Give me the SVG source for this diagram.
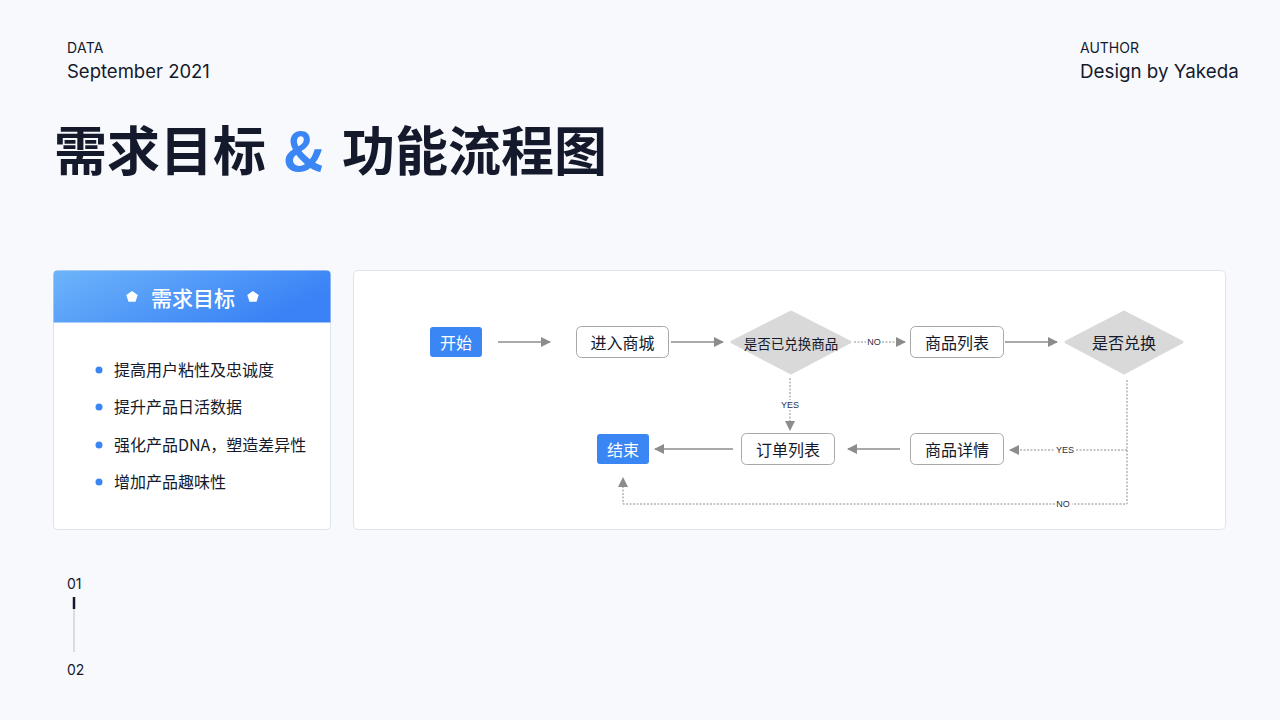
<svg xmlns="http://www.w3.org/2000/svg" width="1280" height="720" viewBox="0 0 1280 720">
<defs>
<linearGradient id="hg" x1="0" y1="0" x2="1" y2="0.4">
<stop offset="0" stop-color="#6db4fa"/>
<stop offset="1" stop-color="#3a82f6"/>
</linearGradient>
<marker id="ah" viewBox="0 0 10 10" refX="9" refY="5" markerWidth="10" markerHeight="10" markerUnits="userSpaceOnUse" orient="auto">
<path d="M0,0 L10,5 L0,10 z" fill="#8c8c8c"/>
</marker>
<style>
.t{font-family:"Noto Sans CJK SC","Noto Sans",sans-serif;fill:#141a2b}
.lat{font-family:"Inter","Noto Sans",sans-serif;fill:#141a2b}
.box{fill:#fff;stroke:#a8a8a8;stroke-width:1}
.blue{fill:#3b86f5}
.dia{fill:#d9d9d9}
.nl{font-family:"Noto Sans CJK SC",sans-serif;font-size:16px;fill:#141a2b;text-anchor:middle;dominant-baseline:central}
.sm{font-family:"Noto Sans CJK SC",sans-serif;font-size:13.5px;fill:#141a2b;text-anchor:middle;dominant-baseline:central}
.lbl{font-family:"Liberation Sans",sans-serif;font-size:9px;fill:#2a2f45;text-anchor:middle;dominant-baseline:central}
.solid{stroke:#8c8c8c;stroke-width:1.5;fill:none}
.dot{stroke:#8c8c8c;stroke-width:1;fill:none;stroke-dasharray:2 1.5}
.li{font-family:"Noto Sans CJK SC",sans-serif;font-size:16px;fill:#141a2b}
</style>
</defs>
<rect width="1280" height="720" fill="#f8f9fd"/>

<g id="header">
<text class="lat" x="67" y="53" font-size="14" letter-spacing="0.3">DATA</text>
<text class="lat" x="67" y="78" font-size="18.5">September 2021</text>
<text class="lat" x="1080" y="53" font-size="14">AUTHOR</text>
<text class="lat" x="1080" y="78" font-size="18.8">Design by Yakeda</text>
<text class="t" x="54" y="171" font-size="53" font-weight="700">需求目标</text>
<text class="t" x="284" y="171" font-size="53" font-weight="700" style="fill:#3b86f5">&amp;</text>
<text class="t" x="342" y="171" font-size="53" font-weight="700">功能流程图</text>
</g>

<g id="goal-card">
<rect x="53.5" y="270.5" width="277" height="259" rx="4" fill="#fff" stroke="#dfe3ec"/>
<path d="M57.5,270.5 H326.5 A4,4 0 0 1 330.5,274.5 V322.5 H53.5 V274.5 A4,4 0 0 1 57.5,270.5 Z" fill="url(#hg)"/>
<polygon points="132,291 137.7,295.1 135.5,301.8 128.5,301.8 126.3,295.1" fill="#fff"/>
<polygon points="253,291 258.7,295.1 256.5,301.8 249.5,301.8 247.3,295.1" fill="#fff"/>
<text x="193" y="297" font-family="Noto Sans CJK SC,sans-serif" font-size="21" font-weight="500" fill="#fff" text-anchor="middle" dominant-baseline="central">需求目标</text>
<circle cx="99" cy="370" r="3.5" fill="#3b86f5"/>
<text class="li" x="114" y="375.5">提高用户粘性及忠诚度</text>
<circle cx="99" cy="407" r="3.5" fill="#3b86f5"/>
<text class="li" x="114" y="412.5">提升产品日活数据</text>
<circle cx="99" cy="445" r="3.5" fill="#3b86f5"/>
<text class="li" x="114" y="450.5">强化产品DNA，塑造差异性</text>
<circle cx="99" cy="482" r="3.5" fill="#3b86f5"/>
<text class="li" x="114" y="487.5">增加产品趣味性</text>
</g>

<g id="flow-panel">
<rect x="353.5" y="270.5" width="872" height="259" rx="4" fill="#fff" stroke="#dfe3ec"/>
</g>

<g id="connectors">
<line class="solid" x1="498" y1="342" x2="550" y2="342" marker-end="url(#ah)"/>
<line class="solid" x1="671" y1="342" x2="723" y2="342" marker-end="url(#ah)"/>
<line class="dot" x1="854" y1="342" x2="905" y2="342" marker-end="url(#ah)"/>
<rect x="866" y="337" width="16" height="10" fill="#fff"/>
<text class="lbl" x="874" y="342">NO</text>
<line class="solid" x1="1005" y1="342" x2="1057" y2="342" marker-end="url(#ah)"/>
<line class="dot" x1="790" y1="378" x2="790" y2="430" marker-end="url(#ah)"/>
<rect x="780" y="400" width="20" height="10" fill="#fff"/>
<text class="lbl" x="790" y="405">YES</text>
<polyline class="dot" points="1127,380 1127,450 1010,450" marker-end="url(#ah)"/>
<rect x="1054" y="445" width="22" height="10" fill="#fff"/>
<text class="lbl" x="1065" y="450">YES</text>
<polyline class="dot" points="1127,450 1127,504 623,504 623,478" marker-end="url(#ah)"/>
<rect x="1055" y="499" width="17" height="10" fill="#fff"/>
<text class="lbl" x="1063" y="504">NO</text>
<line class="solid" x1="900" y1="449" x2="848" y2="449" marker-end="url(#ah)"/>
<line class="solid" x1="733" y1="449" x2="655" y2="449" marker-end="url(#ah)"/>
</g>

<g id="start">
<rect x="430" y="327" width="52" height="30" rx="3" class="blue"/>
<text class="nl" x="456" y="342" style="fill:#fff">开始</text>
</g>
<g id="enter-mall">
<rect x="576.5" y="326.5" width="92" height="31" rx="5" class="box"/>
<text class="nl" x="622.5" y="342">进入商城</text>
</g>
<g id="redeemed-decision">
<polygon points="791,312 850,342 791,373 732,342" class="dia" stroke="#d9d9d9" stroke-width="3" stroke-linejoin="round"/>
<text class="sm" x="791" y="343">是否已兑换商品</text>
</g>
<g id="product-list">
<rect x="910.5" y="326.5" width="93" height="31" rx="5" class="box"/>
<text class="nl" x="957" y="342">商品列表</text>
</g>
<g id="redeem-decision">
<polygon points="1124,312 1182,342 1124,373 1066,342" class="dia" stroke="#d9d9d9" stroke-width="3" stroke-linejoin="round"/>
<text class="nl" x="1124" y="342">是否兑换</text>
</g>
<g id="product-detail">
<rect x="910.5" y="433.5" width="93" height="31" rx="5" class="box"/>
<text class="nl" x="957" y="449">商品详情</text>
</g>
<g id="order-list">
<rect x="741.5" y="433.5" width="93" height="31" rx="5" class="box"/>
<text class="nl" x="788" y="449">订单列表</text>
</g>
<g id="end">
<rect x="597" y="434" width="52" height="30" rx="3" class="blue"/>
<text class="nl" x="623" y="449" style="fill:#fff">结束</text>
</g>

<g id="pager">
<text class="lat" x="67" y="589" font-size="14">01</text>
<line x1="74" y1="609" x2="74" y2="652" stroke="#b9bcd4" stroke-width="1"/>
<line x1="74" y1="597" x2="74" y2="609" stroke="#141a2b" stroke-width="2.5"/>
<text class="lat" x="67" y="675" font-size="14">02</text>
</g>
</svg>
